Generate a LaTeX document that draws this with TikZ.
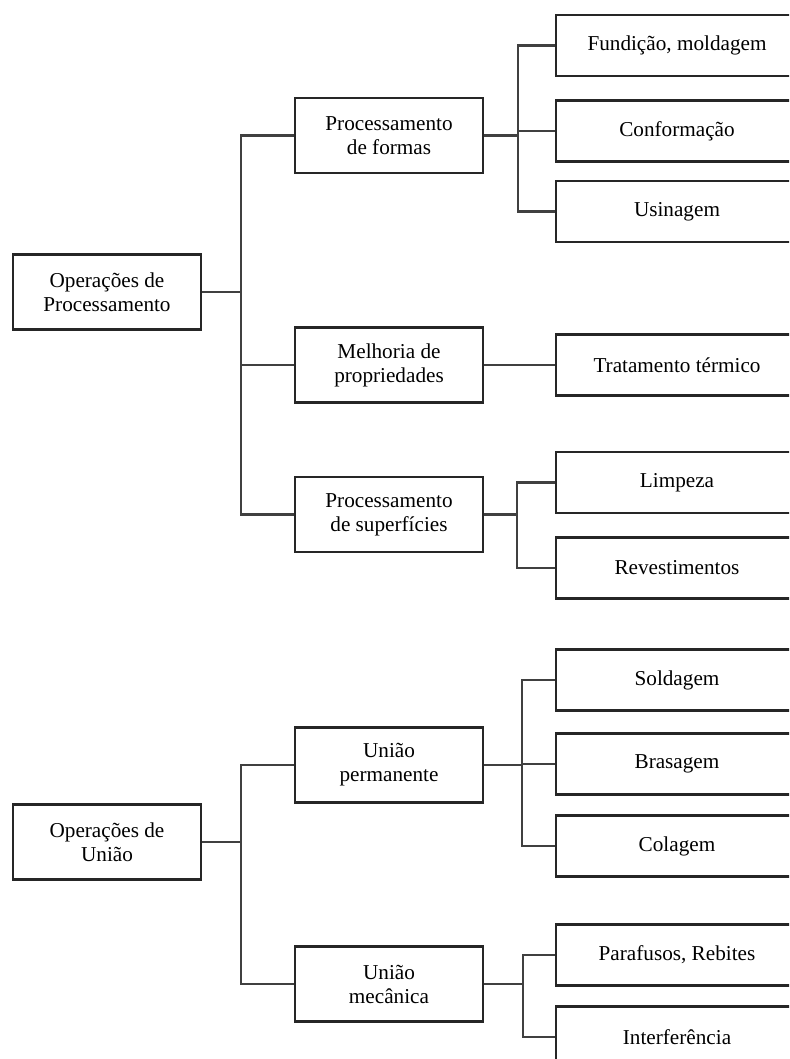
\documentclass[tikz,border=0pt]{standalone}
\usepackage{fontspec}
\setmainfont{Liberation Serif}
\usepackage{tikz}

\tikzset{
	box/.style={draw=black!85, line width=1.1pt, fill=white, align=center, inner sep=0pt,
		font=\fontsize{10.6}{12}\selectfont},
	mainbox/.style={box, minimum width=94pt, minimum height=37.5pt},
	subbox/.style={box, minimum width=121pt, minimum height=30.5pt},
	link/.style={draw=black!75, line width=1.1pt}
}

\begin{document}
\begin{tikzpicture}[x=0.5pt, y=-0.5pt]
		\clip (0,0) rectangle (789,1059);
		\fill[white] (0,0) rectangle (789,1059);
		
		% processamento
		\node[mainbox] (op) at (107, 292) {Operações de\\Processamento};
		\node[mainbox] (pf) at (389, 135.5) {Processamento\\de formas};
		\node[mainbox] (mp) at (389, 365) {Melhoria de\\propriedades};
		\node[mainbox] (ps) at (389, 514.5) {Processamento\\de superfícies};
		
		\node[subbox] (fund) at (677, 45.5) {Fundição, moldagem};
		\node[subbox] (conf) at (677, 131) {Conformação};
		\node[subbox] (usin) at (677, 211.5) {Usinagem};
		\node[subbox] (trat) at (677, 365) {Tratamento térmico};
		\node[subbox] (limp) at (677, 482.5) {Limpeza};
		\node[subbox] (rev) at (677, 568) {Revestimentos};
		
		% uniao
		\node[mainbox] (ou) at (107, 842) {Operações de\\União};
		\node[mainbox] (up) at (389, 765) {União\\permanente};
		\node[mainbox] (um) at (389, 984) {União\\mecânica};
		
		\node[subbox] (sold) at (677, 680) {Soldagem};
		\node[subbox] (bras) at (677, 764) {Brasagem};
		\node[subbox] (col) at (677, 846) {Colagem};
		\node[subbox] (paraf) at (677, 955) {Parafusos, Rebites};
		\node[subbox] (interf) at (677, 1037) {Interferência};
		
		\foreach \s/\t/\d in {op/pf/39, op/mp/39, op/ps/39, pf/fund/34, pf/conf/34, pf/usin/34,
			ps/limp/33, ps/rev/33, ou/up/39, ou/um/39, up/sold/38, up/bras/38, up/col/38,
			um/paraf/39, um/interf/39} {
			\draw[link] (\s.east) -- ++(\d,0) |- (\t.west);
		}
		\draw[link] (mp) -- (trat);
		
	\end{tikzpicture}
\end{document}
